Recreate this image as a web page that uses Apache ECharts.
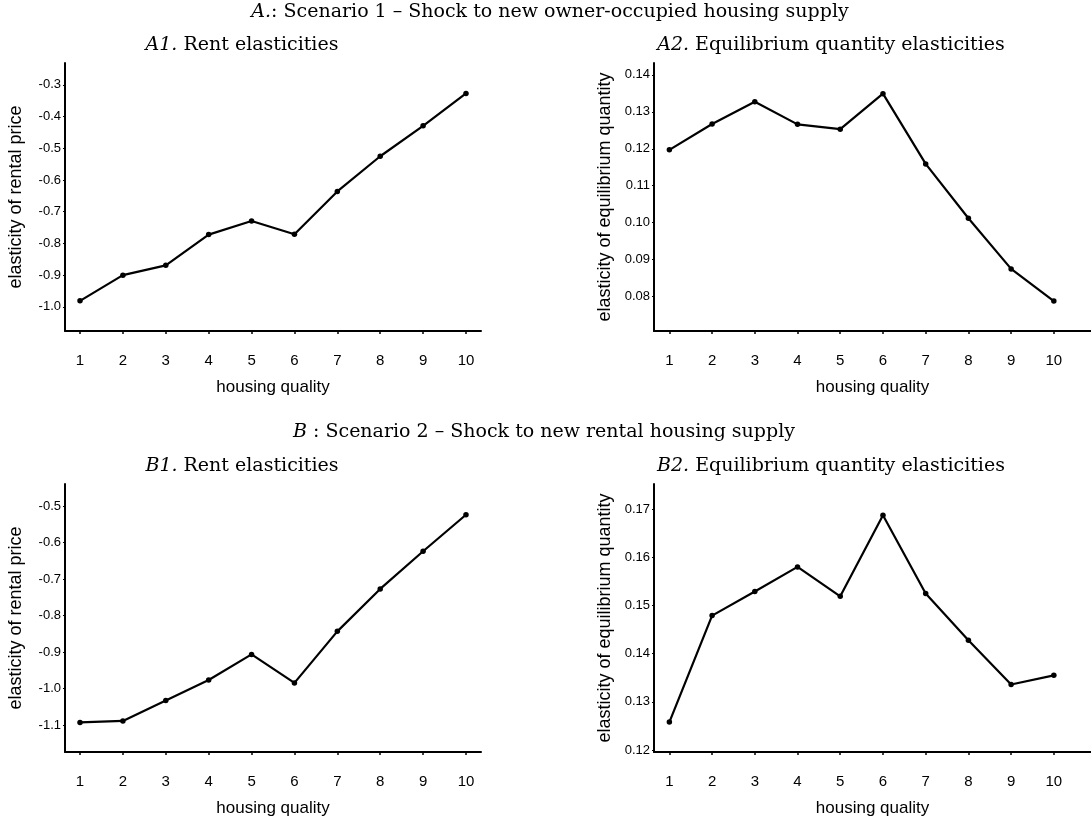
<!DOCTYPE html>
<html>
<head>
<meta charset="utf-8">
<script src="https://cdn.jsdelivr.net/npm/echarts@6/dist/echarts.min.js"></script>
<style>
html,body{margin:0;padding:0;background:#fff;}
#chart{width:1091px;height:823px;}
</style>
</head>
<body>
<div id="chart"></div>
<script>
// ---- data ----
var quality = [1, 2, 3, 4, 5, 6, 7, 8, 9, 10];
var a1Rent = [-0.981, -0.900, -0.869, -0.772, -0.729, -0.771, -0.636, -0.525, -0.429, -0.327];
var a2Qty = [0.1197, 0.1267, 0.1327, 0.1266, 0.1253, 0.1349, 0.1159, 0.1012, 0.0875, 0.0788];
var b1Rent = [-1.092, -1.088, -1.032, -0.976, -0.906, -0.984, -0.843, -0.727, -0.624, -0.524];
var b2Qty = [0.1258, 0.1479, 0.1529, 0.1580, 0.1519, 0.1687, 0.1525, 0.1428, 0.1336, 0.1355];

var xTicks = [1, 2, 3, 4, 5, 6, 7, 8, 9, 10];
var a1Ticks = [-1.0, -0.9, -0.8, -0.7, -0.6, -0.5, -0.4, -0.3];
var a2Ticks = [0.08, 0.09, 0.10, 0.11, 0.12, 0.13, 0.14];
var b1Ticks = [-1.1, -1.0, -0.9, -0.8, -0.7, -0.6, -0.5];
var b2Ticks = [0.12, 0.13, 0.14, 0.15, 0.16, 0.17];

var xLabel = 'housing quality';
var rentLabel = 'elasticity of rental price';
var qtyLabel = 'elasticity of equilibrium quantity';

// ---- build ----
var INK = '#000000';
var serif = '"DejaVu Serif", "Liberation Serif", serif';
var sans = '"Liberation Sans", Arial, sans-serif';

function pairs(ys) { return quality.map(function (q, i) { return [q, ys[i]]; }); }

function xAxis(grid, min, max) {
  return {
    type: 'value', gridIndex: grid, min: min, max: max,
    name: xLabel, nameLocation: 'middle', nameGap: 48,
    nameTextStyle: { fontFamily: sans, fontSize: 17, color: INK },
    axisLine: { show: true, onZero: false, lineStyle: { color: INK, width: 2 } },
    axisTick: { show: true, length: 3, customValues: xTicks, lineStyle: { color: INK, width: 1.5 } },
    axisLabel: { customValues: xTicks, margin: 22, fontFamily: sans, fontSize: 15, color: INK },
    splitLine: { show: false }
  };
}
function yAxis(grid, min, max, ticks, dec, name) {
  return {
    type: 'value', gridIndex: grid, min: min, max: max,
    name: name, nameLocation: 'middle', nameGap: 40,
    nameTextStyle: { fontFamily: sans, fontSize: 18, color: INK },
    axisLine: { show: true, onZero: false, lineStyle: { color: INK, width: 2 } },
    axisTick: { show: true, length: 2, customValues: ticks, lineStyle: { color: INK, width: 1 } },
    axisLabel: { customValues: ticks, margin: 4, fontFamily: sans, fontSize: 13, color: INK,
      formatter: function (v) { return v.toFixed(dec); } },
    splitLine: { show: false }
  };
}
function series(xi, ys) {
  return {
    type: 'line', xAxisIndex: xi, yAxisIndex: xi, data: pairs(ys),
    symbol: 'circle', symbolSize: 5.5, showSymbol: true,
    lineStyle: { color: INK, width: 2.2 }, itemStyle: { color: INK },
    z: 3
  };
}
function title(text, cx, top) {
  return {
    text: text, left: cx, top: top, textAlign: 'center', padding: 0,
    textStyle: { fontFamily: serif, fontSize: 19, fontWeight: 'normal', color: INK,
      rich: { i: { fontFamily: serif, fontSize: 19, fontStyle: 'italic', color: INK } } }
  };
}

var option = {
  animation: false,
  backgroundColor: '#ffffff',
  title: [
    title('{i|A.}: Scenario 1 – Shock to new owner-occupied housing supply', 550, 3),
    title('{i|A1.} Rent elasticities', 242, 36),
    title('{i|A2.} Equilibrium quantity elasticities', 831, 36),
    title('{i|B} : Scenario 2 – Shock to new rental housing supply', 544, 423),
    title('{i|B1.} Rent elasticities', 242, 457),
    title('{i|B2.} Equilibrium quantity elasticities', 831, 457)
  ],
  grid: [
    { left: 65, top: 63, width: 416, height: 268 },
    { left: 654, top: 63, width: 437, height: 268 },
    { left: 65, top: 484, width: 416, height: 268 },
    { left: 654, top: 484, width: 437, height: 268 }
  ],
  xAxis: [
    xAxis(0, 0.65, 10.35),
    xAxis(1, 0.64, 10.87),
    xAxis(2, 0.65, 10.35),
    xAxis(3, 0.64, 10.87)
  ],
  yAxis: [
    yAxis(0, -1.076, -0.231, a1Ticks, 1, rentLabel),
    yAxis(1, 0.0707, 0.1432, a2Ticks, 2, qtyLabel),
    yAxis(2, -1.173, -0.44, b1Ticks, 1, rentLabel),
    yAxis(3, 0.1196, 0.1752, b2Ticks, 2, qtyLabel)
  ],
  series: [
    series(0, a1Rent),
    series(1, a2Qty),
    series(2, b1Rent),
    series(3, b2Qty)
  ]
};

var chart = echarts.init(document.getElementById('chart'), null, { renderer: 'canvas' });
chart.setOption(option);
</script>
</body>
</html>
